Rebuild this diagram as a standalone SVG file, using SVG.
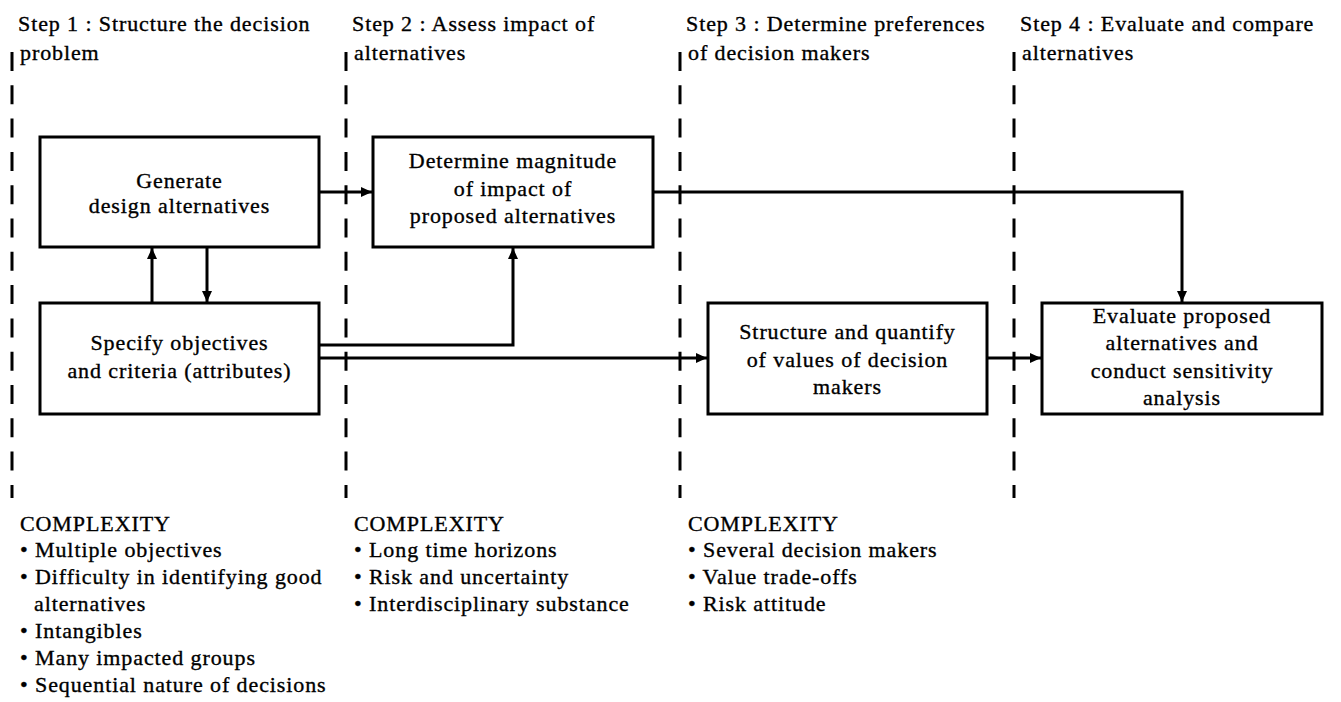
<svg xmlns="http://www.w3.org/2000/svg" width="1341" height="702" viewBox="0 0 1341 702">
  <defs>
    <marker id="arrow" markerUnits="userSpaceOnUse" markerWidth="12" markerHeight="11" refX="11" refY="5.5" orient="auto">
      <path d="M0,0.5 L11,5.5 L0,10.5 z" fill="#000"/>
    </marker>
    <style>
      text { font-family: "Liberation Serif", "Times New Roman", serif; fill: #000; stroke: #000; stroke-width: 0.35; font-size: 22px; letter-spacing: 0.9px; }
      .box rect { fill: #fff; stroke: #000; stroke-width: 3; }
      .box text { text-anchor: middle; }
      .dash { stroke: #000; stroke-width: 3; stroke-dasharray: 19 14.3; fill: none; }
      .conn path { stroke: #000; stroke-width: 3; fill: none; marker-end: url(#arrow); }
    </style>
  </defs>
  <rect width="1341" height="702" fill="#fff"/>

  <g id="headers">
    <text x="18" y="31">Step 1 : Structure the decision</text>
    <text x="20" y="60">problem</text>
    <text x="352" y="31">Step 2 : Assess impact of</text>
    <text x="354" y="60">alternatives</text>
    <text x="686" y="31">Step 3 : Determine preferences</text>
    <text x="688" y="60">of decision makers</text>
    <text x="1020" y="31">Step 4 : Evaluate and compare</text>
    <text x="1022" y="60">alternatives</text>
  </g>

  <g id="dividers">
    <line class="dash" x1="12" y1="52" x2="12" y2="498"/>
    <line class="dash" x1="346" y1="52" x2="346" y2="498"/>
    <line class="dash" x1="680" y1="52" x2="680" y2="498"/>
    <line class="dash" x1="1014" y1="52" x2="1014" y2="498"/>
  </g>

  <g id="connectors" class="conn">
    <path d="M152,303 V248"/>
    <path d="M207,247 V302"/>
    <path d="M319,192 H372"/>
    <path d="M653,192 H1182 V302"/>
    <path d="M319,345 H513 V248"/>
    <path d="M319,358 H707"/>
    <path d="M987,358 H1041"/>
  </g>

  <g id="generate" class="box">
    <rect x="40" y="137" width="279" height="110"/>
    <text x="179.5" y="188">Generate</text>
    <text x="179.5" y="213">design alternatives</text>
  </g>

  <g id="determine" class="box">
    <rect x="373" y="137" width="280" height="110"/>
    <text x="513" y="168">Determine magnitude</text>
    <text x="513" y="196">of impact of</text>
    <text x="513" y="223">proposed alternatives</text>
  </g>

  <g id="specify" class="box">
    <rect x="40" y="303" width="279" height="111"/>
    <text x="179.5" y="350">Specify objectives</text>
    <text x="179.5" y="378">and criteria (attributes)</text>
  </g>

  <g id="structure" class="box">
    <rect x="708" y="303" width="279" height="111"/>
    <text x="847.5" y="339">Structure and quantify</text>
    <text x="847.5" y="367">of values of decision</text>
    <text x="847.5" y="394">makers</text>
  </g>

  <g id="evaluate" class="box">
    <rect x="1042" y="303" width="280" height="111"/>
    <text x="1182" y="323">Evaluate proposed</text>
    <text x="1182" y="350">alternatives and</text>
    <text x="1182" y="378">conduct sensitivity</text>
    <text x="1182" y="405">analysis</text>
  </g>

  <g id="complexity1">
    <text x="20" y="531">COMPLEXITY</text>
    <text x="20" y="557">• Multiple objectives</text>
    <text x="20" y="584">• Difficulty in identifying good</text>
    <text x="34" y="611">alternatives</text>
    <text x="20" y="638">• Intangibles</text>
    <text x="20" y="665">• Many impacted groups</text>
    <text x="20" y="692">• Sequential nature of decisions</text>
  </g>

  <g id="complexity2">
    <text x="354" y="531">COMPLEXITY</text>
    <text x="354" y="557">• Long time horizons</text>
    <text x="354" y="584">• Risk and uncertainty</text>
    <text x="354" y="611">• Interdisciplinary substance</text>
  </g>

  <g id="complexity3">
    <text x="688" y="531">COMPLEXITY</text>
    <text x="688" y="557">• Several decision makers</text>
    <text x="688" y="584">• Value trade-offs</text>
    <text x="688" y="611">• Risk attitude</text>
  </g>
</svg>
